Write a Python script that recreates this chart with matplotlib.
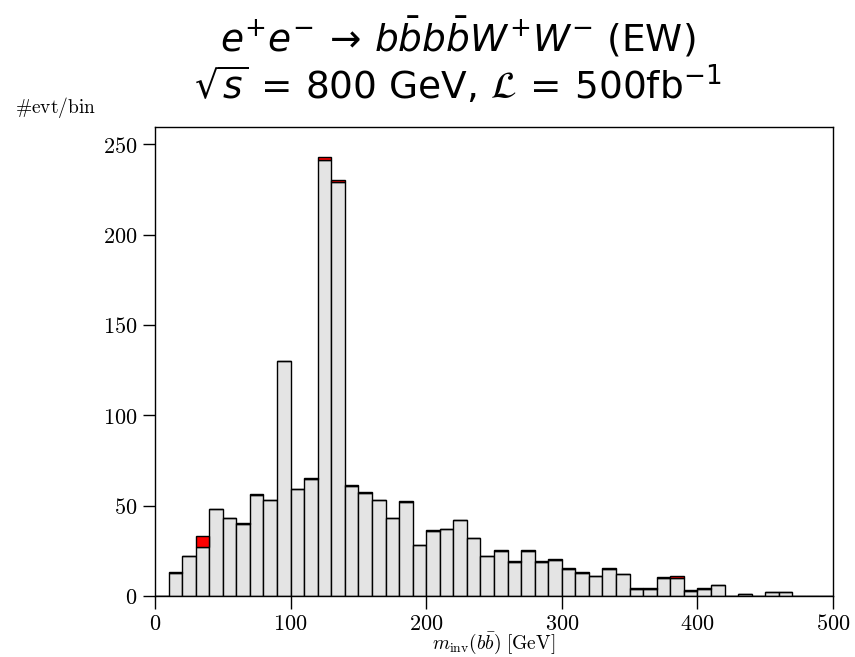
import numpy as np
import matplotlib
matplotlib.use("Agg")
import matplotlib.pyplot as plt

# bin edges in GeV, 10 GeV bins
bin_edges = np.arange(0, 510, 10)

# background (grey) and signal (red) counts per bin
background = [0, 13, 22, 27, 48, 43, 40, 56, 53, 130,
              59, 65, 241, 229, 61, 57, 53, 43, 52, 28,
              36, 37, 42, 32, 22, 25, 19, 25, 19, 20,
              15, 13, 11, 15, 12, 4, 4, 10, 10, 3,
              4, 6, 0, 1, 0, 2, 2, 0, 0, 0]
signal = [0.2, 0.3, 0, 6, 0, 0, 0.3, 0.3, 0.3, 0.3,
          0, 0.3, 2, 1, 0.3, 0.3, 0.3, 0, 0.3, 0,
          0.3, 0.3, 0.3, 0.3, 0, 0.3, 0.3, 0.3, 0.3, 0.3,
          0.3, 0.3, 0, 0.3, 0, 0.3, 0.3, 0.3, 1, 0.3,
          0.3, 0, 0, 0, 0, 0, 0, 0, 0, 0]

xticks = [0, 100, 200, 300, 400, 500]
yticks = [0, 50, 100, 150, 200, 250]

plt.rcParams['mathtext.fontset'] = 'cm'
plt.rcParams['font.family'] = 'DejaVu Serif'

fig = plt.figure(figsize=(8.55, 6.57), dpi=100)
ax = fig.add_axes([155 / 855, 61 / 657, 678 / 855, 469 / 657])

left = bin_edges[:-1]
width = np.diff(bin_edges)
bg = np.array(background, dtype=float)
sig = np.array(signal, dtype=float)

ax.bar(left, bg, width=width, align='edge', color='#e4e4e4',
       edgecolor='black', linewidth=1.0)
ax.bar(left, sig, width=width, bottom=bg, align='edge', color='red',
       edgecolor='black', linewidth=1.0)

ax.set_xlim(0, 500)
ax.set_ylim(0, 259.5)
ax.set_xticks(xticks)
ax.set_yticks(yticks)
ax.set_xticklabels([f'${t}$' for t in xticks])
ax.set_yticklabels([f'${t}$' for t in yticks])
ax.tick_params(direction='out', length=9, width=1, labelsize=16)
ax.tick_params(top=False, right=False)
for s in ax.spines.values():
    s.set_linewidth(1.0)

ax.set_xlabel(r'$m_{\rm inv}(b\bar{b})\ [\rm GeV]$', fontsize=14, labelpad=-3)
fig.text(15 / 855, 1 - 108 / 657, r'$\#{\rm evt/bin}$', fontsize=14,
         va='center', ha='left')

fig.text(0.535, 1 - 37 / 657,
         r'$e^{+}e^{-} \,\rightarrow\, b\bar{b}b\bar{b}W^{+}W^{-}$ (EW)',
         fontsize=27, ha='center', va='center', family='DejaVu Sans',
         math_fontfamily='dejavusans')
fig.text(0.535, 1 - 85 / 657,
         r'$\sqrt{s} \,=\, 800$ GeV, $\mathcal{L} \,=\, 500$fb$^{-1}$',
         fontsize=27, ha='center', va='center', family='DejaVu Sans',
         math_fontfamily='dejavusans')

fig.savefig('out.png', dpi=100)
